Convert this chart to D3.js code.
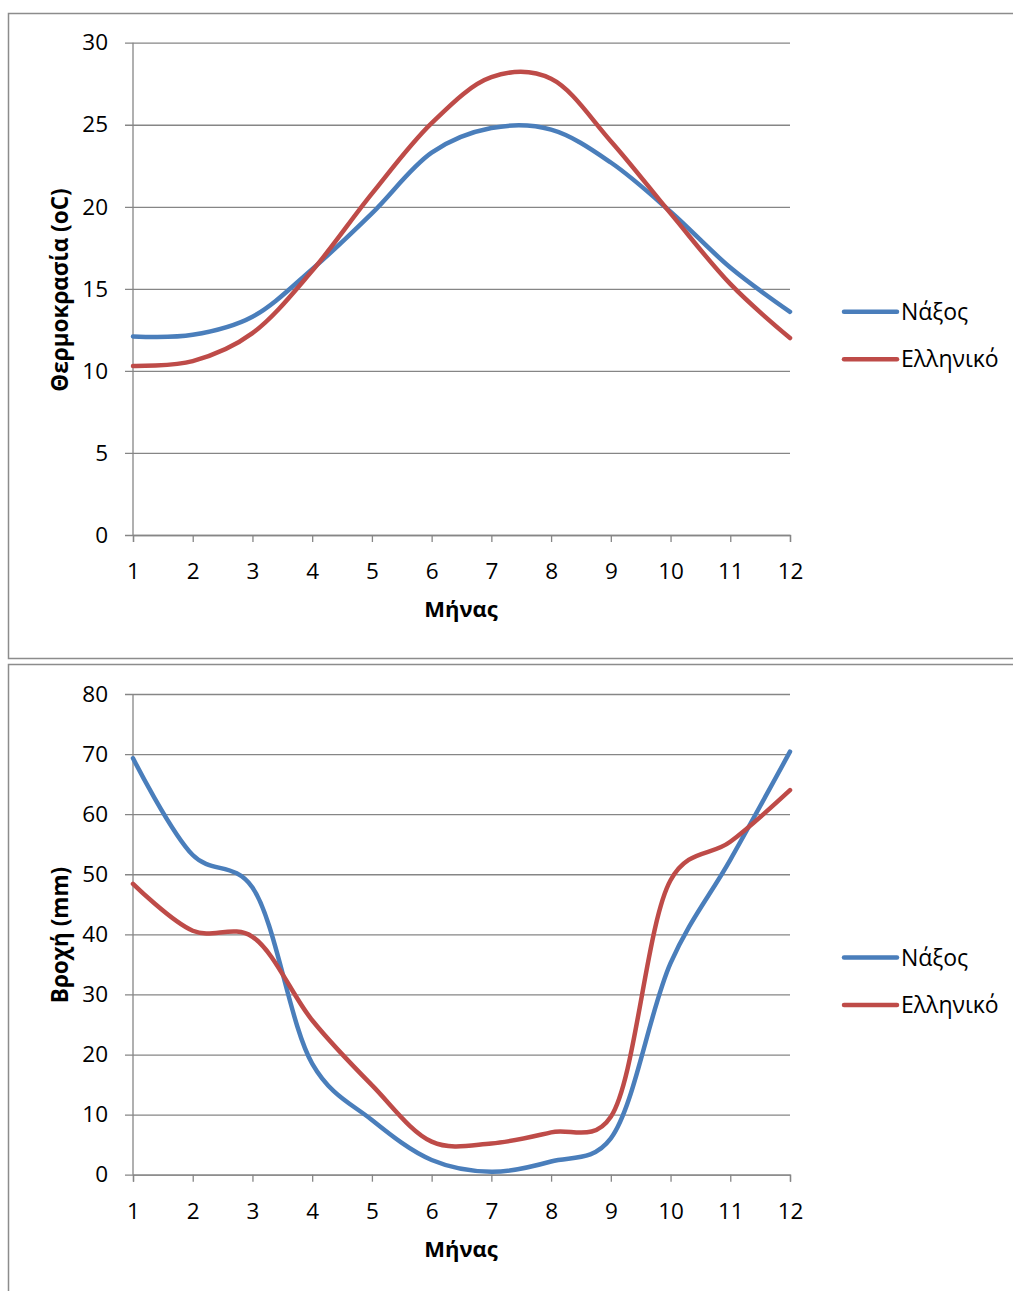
<!DOCTYPE html>
<html><head><meta charset="utf-8">
<script src="https://cdn.jsdelivr.net/npm/d3@7"></script>
<style>body{margin:0;background:#fff}svg{display:block}</style>
</head><body>
<script>
const months = [1,2,3,4,5,6,7,8,9,10,11,12];
const seriesNames = ["Νάξος","Ελληνικό"];
const tempNaxos    = [12.1,12.2,13.3,16.2,19.6,23.3,24.8,24.7,22.7,19.7,16.3,13.6];
const tempElliniko = [10.3,10.6,12.3,16.1,20.8,25.1,27.9,27.8,24.0,19.6,15.3,12.0];
const rainNaxos    = [69.3,53.2,47.8,18.5,9.1,2.45,0.5,2.2,6.05,35.2,52.4,70.4];
const rainElliniko = [48.4,40.6,39.6,25.7,14.9,5.5,5.2,7.05,9.65,49.0,55.4,64.0];
const tempTicks = [0,5,10,15,20,25,30];
const rainTicks = [0,10,20,30,40,50,60,70,80];
const tempTitle = "Θερμοκρασία (oC)";
const rainTitle = "Βροχή (mm)";
const xTitle = "Μήνας";

const colors = ["#4A7EBB","#BE4B48"];
const font = "'Open Sans', sans-serif";
const W = 1013, H = 1291;
const svg = d3.select("body").append("svg").attr("width",W).attr("height",H);

// frames
svg.append("path").attr("d","M1020,13.5H8.5V658.5H1020").attr("fill","none").attr("stroke","#8c8c8c").attr("stroke-width",1.5);
svg.append("path").attr("d","M1020,664.5H8.5V1300").attr("fill","none").attr("stroke","#8c8c8c").attr("stroke-width",1.5);

const x = d3.scaleLinear().domain([1,12]).range([133,790]);

function chart(cfg){
  const y = d3.scaleLinear().domain([0,cfg.max]).range([cfg.y0,cfg.y1]);
  const g = svg.append("g");
  // gridlines + y axis
  const ya = d3.axisLeft(y).tickValues(cfg.ticks).tickSize(-(790-133)).tickPadding(25).tickFormat(d3.format("d"));
  const yg = g.append("g").attr("transform","translate(133,0)").call(ya);
  yg.select(".domain").remove();
  yg.selectAll(".tick line").attr("stroke","#868686").attr("stroke-width",1.3).attr("x1",-8);
  yg.selectAll(".tick text").attr("font-family",font).attr("font-size",22.5).attr("fill","#000");
  // y axis line
  g.append("line").attr("x1",133).attr("x2",133).attr("y1",y(cfg.max)).attr("y2",cfg.y0).attr("stroke","#868686").attr("stroke-width",1.3);
  // x axis
  const xa = d3.axisBottom(x).tickValues(months).tickSize(7).tickPadding(21).tickFormat(d3.format("d"));
  const xg = g.append("g").attr("transform",`translate(0,${cfg.y0})`).call(xa);
  xg.select(".domain").attr("stroke","#868686").attr("stroke-width",1.3);
  xg.selectAll(".tick line").attr("stroke","#868686").attr("stroke-width",1.3);
  xg.selectAll(".tick text").attr("font-family",font).attr("font-size",22.5).attr("fill","#000");
  // titles
  g.append("text").attr("x",461).attr("y",cfg.y0+82).attr("text-anchor","middle")
    .attr("font-family",font).attr("font-size",22).attr("font-weight","bold").text(xTitle);
  g.append("text").attr("transform",`translate(68,${cfg.ymid}) rotate(-90)`).attr("text-anchor","middle")
    .attr("font-family",font).attr("font-size",22.5).attr("font-weight","bold").text(cfg.title);
  // lines
  const line = d3.line().x((d,i)=>x(months[i])).y(d=>y(d)).curve(d3.curveCatmullRom.alpha(0.25));
  cfg.data.forEach((s,i)=>{
    g.append("path").attr("d",line(s)).attr("fill","none").attr("stroke",colors[i])
      .attr("stroke-width",4.5).attr("stroke-linecap","round").attr("stroke-linejoin","round");
  });
  // legend
  seriesNames.forEach((n,i)=>{
    const ly = cfg.leg + i*47.6;
    g.append("line").attr("x1",844).attr("x2",897).attr("y1",ly).attr("y2",ly)
      .attr("stroke",colors[i]).attr("stroke-width",4.5).attr("stroke-linecap","round");
    g.append("text").attr("x",901).attr("y",ly).attr("dy","0.35em").attr("font-family",font)
      .attr("font-size",23).attr("fill","#000").text(n);
  });
}

chart({max:30, ticks:tempTicks, y0:535, y1:42.7, ymid:290, title:tempTitle, data:[tempNaxos,tempElliniko], leg:311.7});
chart({max:80, ticks:rainTicks, y0:1174.7, y1:694, ymid:935, title:rainTitle, data:[rainNaxos,rainElliniko], leg:957.5});
</script>
</body></html>
